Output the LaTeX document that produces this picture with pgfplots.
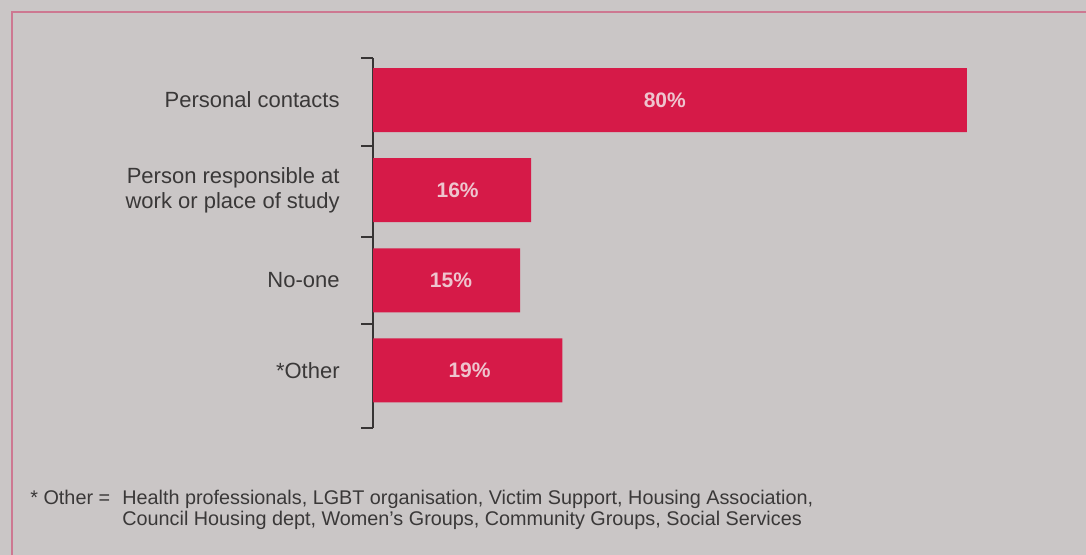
\documentclass[border=0pt]{standalone}
\usepackage{pgfplots}
\pgfplotsset{compat=1.18}
\usepackage{pgfplotstable}
\usepackage{fontspec}
\setmainfont{Liberation Sans}
\definecolor{bg}{RGB}{202,198,198}
\definecolor{frame}{RGB}{205,120,145}
\definecolor{barred}{RGB}{214,26,72}
\definecolor{lbl}{RGB}{238,196,206}
\definecolor{txt}{RGB}{58,56,56}
\definecolor{axisgrey}{RGB}{55,52,52}
% y: category position (3 = top); len: drawn bar length; lx: label position; pct: printed value
\pgfplotstableread{
y len lx pct
3 80.0 39.3 80
2 21.3 11.4 16
1 19.8 10.5 15
0 25.5 13.0 19
}\data
\begin{document}
\begin{tikzpicture}
\fill[bg] (0,0) rectangle (543pt,-277.5pt);
\useasboundingbox (0,0) rectangle (543pt,-277.5pt);
\draw[frame, line width=1pt] (5.8pt,-277.5pt) -- (5.8pt,-6pt) -- (543pt,-6pt);
\begin{axis}[
  at={(186.5pt,-214pt)}, anchor=south west,
  scale only axis, width=334.1pt, height=185pt,
  xmin=0, xmax=90, ymin=-0.638, ymax=3.466,
  axis x line=none, axis y line*=left,
  axis line style={draw=axisgrey, line width=1pt},
  clip=false,
  ytick={0,1,2,3},
  yticklabels={*Other, No-one, {Person responsible at\\work or place of study}, Personal contacts},
  major tick length=0pt,
  yticklabel style={font=\fontsize{11}{12.2}\selectfont, text=txt, align=right, inner sep=0pt, xshift=-16.5pt},
  extra y ticks={-0.638,0.52,1.48,2.49,3.466},
  extra y tick labels={},
  extra y tick style={major tick length=6pt, tick align=outside, tick style={draw=axisgrey, line width=1pt}},
]
\addplot[xbar, bar width=0.71, fill=barred, draw=none] table[x=len, y=y] {\data};
\addplot[only marks, mark=none, point meta=explicit symbolic,
  nodes near coords={\pgfplotspointmeta\%},
  nodes near coords style={anchor=center, font=\fontsize{10.5}{12}\selectfont\bfseries, text=lbl}]
  table[x=lx, y=y, meta=pct] {\data};
\end{axis}
\node[anchor=base west, inner sep=0pt, font=\fontsize{9.9}{10.5}\selectfont, text=txt] at (15pt,-252pt) {* Other =};
\node[anchor=base west, inner sep=0pt, font=\fontsize{9.9}{10.5}\selectfont, text=txt] at (61pt,-252pt)
  {Health professionals, LGBT organisation, Victim Support, Housing Association,};
\node[anchor=base west, inner sep=0pt, font=\fontsize{9.9}{10.5}\selectfont, text=txt] at (61pt,-262.5pt)
  {Council Housing dept, Women's Groups, Community Groups, Social Services};
\end{tikzpicture}
\end{document}
